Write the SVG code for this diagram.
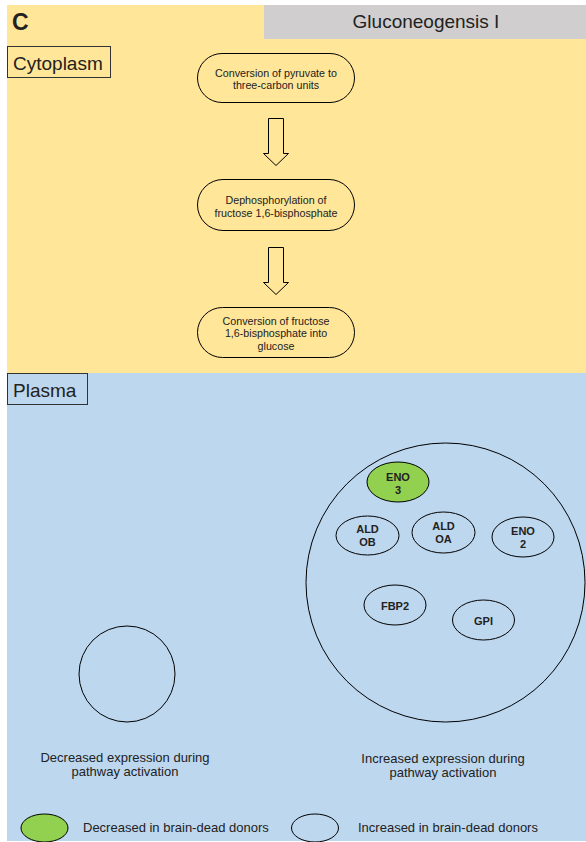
<svg xmlns="http://www.w3.org/2000/svg" width="586" height="842" viewBox="0 0 586 842">
<style>
  .t { font-family: "Liberation Sans", Arial, sans-serif; fill: #222; }
  .pill { fill: #ffe699; stroke: #000; stroke-width: 1; }
  .enz { fill: #bdd7ee; stroke: #000; stroke-width: 1; }
  .dec { fill: #92d050; stroke: #000; stroke-width: 1; }
  .en { font-family: "Liberation Sans", Arial, sans-serif; font-weight: bold; font-size: 11px; fill: #222; text-anchor: middle; }
  .pt { font-family: "Liberation Sans", Arial, sans-serif; font-size: 10.7px; fill: #222; text-anchor: middle; }
  .arrow { fill: #ffe699; stroke: #000; stroke-width: 1; }
  .lbl { fill: none; stroke: #333; stroke-width: 1; }
</style>
<rect x="0" y="0" width="586" height="842" fill="#fff"/>
<rect x="7" y="5" width="579" height="368" fill="#ffe699"/>
<rect x="7" y="373" width="579" height="468" fill="#bdd7ee"/>
<rect x="264" y="5" width="322" height="34" fill="#d0cece"/>
<text class="t" x="12" y="30" font-size="23" font-weight="bold" fill="#000">C</text>
<text class="t" x="426" y="28" font-size="19" text-anchor="middle">Gluconeogensis I</text>
<g id="cytoplasm-label">
  <rect class="lbl" x="7.5" y="46.5" width="103" height="31"/>
  <text class="t" x="13" y="70" font-size="19">Cytoplasm</text>
</g>
<g id="plasma-label">
  <rect class="lbl" x="7.5" y="373.5" width="80" height="31"/>
  <text class="t" x="13" y="397" font-size="19">Plasma</text>
</g>
<g id="step1">
  <rect class="pill" x="197.5" y="53.5" width="157" height="49" rx="24.5"/>
  <text class="pt" x="276" y="77">Conversion of pyruvate to</text>
  <text class="pt" x="276" y="89">three-carbon units</text>
</g>
<g id="step2">
  <rect class="pill" x="197.5" y="179.5" width="157" height="51" rx="25.5"/>
  <text class="pt" x="276" y="204">Dephosphorylation of</text>
  <text class="pt" x="276" y="217">fructose 1,6-bisphosphate</text>
</g>
<g id="step3">
  <rect class="pill" x="197.5" y="307.5" width="157" height="50" rx="25"/>
  <text class="pt" x="276" y="325">Conversion of fructose</text>
  <text class="pt" x="276" y="337">1,6-bisphosphate into</text>
  <text class="pt" x="276" y="350">glucose</text>
</g>
<g id="connectors">
  <path class="arrow" d="M268.5,118.5 H283.5 V153.5 H288.5 L276,165.5 L263.5,153.5 H268.5 Z"/>
  <path class="arrow" d="M268.5,247.5 H283.5 V282.5 H288.5 L276,294.5 L263.5,282.5 H268.5 Z"/>
</g>
<g id="decreased-group">
  <circle cx="127" cy="674" r="48" fill="none" stroke="#000" stroke-width="1"/>
  <text class="t" x="125" y="762" font-size="13" text-anchor="middle">Decreased expression during</text>
  <text class="t" x="125" y="776" font-size="13" text-anchor="middle">pathway activation</text>
</g>
<g id="increased-group">
  <circle cx="445.5" cy="582.5" r="139.5" fill="none" stroke="#000" stroke-width="1"/>
  <text class="t" x="443" y="763" font-size="13" text-anchor="middle">Increased expression during</text>
  <text class="t" x="443" y="777" font-size="13" text-anchor="middle">pathway activation</text>
</g>
<g id="ENO3">
  <ellipse class="dec" cx="398" cy="482" rx="31" ry="20"/>
  <text class="en" x="398" y="481">ENO</text>
  <text class="en" x="398" y="494">3</text>
</g>
<g id="ALDOB">
  <ellipse class="enz" cx="367.5" cy="535.5" rx="31.5" ry="19.5"/>
  <text class="en" x="367.5" y="533">ALD</text>
  <text class="en" x="367.5" y="546">OB</text>
</g>
<g id="ALDOA">
  <ellipse class="enz" cx="443.5" cy="532.5" rx="31.5" ry="20.5"/>
  <text class="en" x="443.5" y="530">ALD</text>
  <text class="en" x="443.5" y="543">OA</text>
</g>
<g id="ENO2">
  <ellipse class="enz" cx="523" cy="537" rx="31" ry="20"/>
  <text class="en" x="523" y="535">ENO</text>
  <text class="en" x="523" y="548">2</text>
</g>
<g id="FBP2">
  <ellipse class="enz" cx="395" cy="605" rx="31" ry="20"/>
  <text class="en" x="395" y="610">FBP2</text>
</g>
<g id="GPI">
  <ellipse class="enz" cx="483.5" cy="620" rx="31" ry="20"/>
  <text class="en" x="483.5" y="625">GPI</text>
</g>
<g id="legend">
  <ellipse class="dec" cx="44.5" cy="828" rx="23.5" ry="14"/>
  <text class="t" x="83" y="832" font-size="13">Decreased in brain-dead donors</text>
  <ellipse class="enz" cx="315" cy="828" rx="23.5" ry="14"/>
  <text class="t" x="358" y="832" font-size="13">Increased in brain-dead donors</text>
</g>
</svg>
